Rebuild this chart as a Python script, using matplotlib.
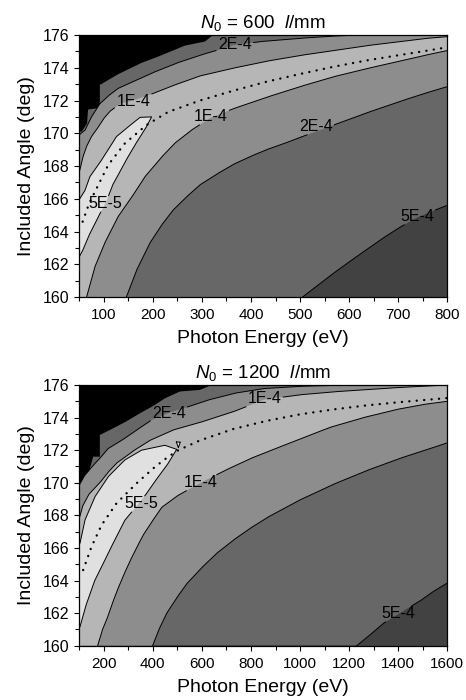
import numpy as np
import matplotlib
matplotlib.use("Agg")
import matplotlib.pyplot as plt
from matplotlib.ticker import MultipleLocator

plt.rcParams['font.family'] = ['Liberation Sans', 'DejaVu Sans']
plt.rcParams['mathtext.fontset'] = 'custom'
plt.rcParams['mathtext.rm'] = 'Liberation Sans'
plt.rcParams['mathtext.it'] = 'Liberation Sans:italic'

# ---------------- N0 = 600 l/mm ----------------
# edge of the forbidden (alpha > 90 deg) region: (photon energy eV, included angle deg)
edge_600 = [(50, 170.1), (55, 170.1), (66, 170.6), (68, 171.45), (92, 171.55), (92, 172.95),
            (129, 173.6), (177, 174.3), (204, 174.6), (245, 175.1), (265, 175.35),
            (306, 175.6), (323, 176.0)]
# resolution contours, upper (small-energy / large-angle) branches
up_2e4_600 = [(50, 169.9), (62, 170.2), (75, 171.0), (92, 171.8), (110, 172.3), (130, 172.75),
              (160, 173.15), (200, 173.7), (250, 174.3), (300, 174.8), (340, 175.15),
              (367, 175.38), (420, 175.6), (500, 175.8), (560, 175.92), (620, 176.0)]
up_1e4_600 = [(50, 167.6), (57, 168.5), (65, 169.2), (75, 169.8), (86, 170.25), (100, 170.9),
              (113, 171.35), (133, 171.8), (160, 172.0), (198, 172.4), (240, 172.9),
              (296, 173.5), (360, 173.95), (432, 174.4), (500, 174.75), (568, 175.05),
              (636, 175.35), (704, 175.6), (760, 175.8), (800, 175.9)]
# lower branches
lo_1e4_600 = [(65, 160.0), (82, 161.85), (102, 163.3), (129, 164.9), (157, 166.1), (184, 167.35),
              (218, 168.55), (245, 169.4), (279, 170.2), (318, 170.95), (364, 171.5),
              (432, 172.2), (500, 172.85), (568, 173.45), (636, 173.95), (703, 174.4),
              (760, 174.8), (800, 175.05)]
lo_2e4_600 = [(146, 160.0), (167, 161.65), (194, 163.3), (218, 164.4), (241, 165.3),
              (268, 166.1), (296, 166.85), (330, 167.5), (364, 168.1), (400, 168.6),
              (432, 169.0), (470, 169.4), (500, 169.75), (532, 170.1), (568, 170.5),
              (636, 171.25), (704, 171.95), (750, 172.4), (800, 172.85)]
lo_5e4_600 = [(505, 160.0), (540, 160.8), (568, 161.45), (600, 162.15), (636, 162.9),
              (669, 163.6), (700, 164.2), (738, 164.85), (770, 165.25), (800, 165.6)]
# closed 5E-5 island
isl_5e5_600 = [[(50, 165.95), (61.6, 166.5), (71.8, 167.35), (92, 168.2), (109, 169.0),
                (126, 169.8), (150, 170.4), (174, 170.97), (197.5, 171.0), (187, 170.4),
                (170, 169.6), (150, 168.6), (133, 167.65), (119, 166.9), (106, 165.9),
                (89, 164.9), (72, 163.9), (58, 162.9), (50, 162.45)]]
# optimum included angle
opt_600 = [(57, 164.6), (70, 165.7), (85.5, 166.64), (109, 168.06), (143, 169.38),
           (187, 170.5), (231, 171.3), (296, 172.0), (364, 172.6), (432, 173.15),
           (500, 173.62), (568, 174.06), (636, 174.45), (704, 174.78), (760, 175.05),
           (800, 175.25)]
labels_600 = [("2E-4", 367, 175.42, "up2"), ("1E-4", 160, 171.95, "up1"),
              ("1E-4", 318, 171.0, "lo1"), ("2E-4", 532, 170.4, "lo2"),
              ("5E-4", 738, 164.9, "lo5"), ("5E-5", 104, 165.7, "isl")]

# ---------------- N0 = 1200 l/mm ----------------
edge_1200 = [(100, 170.05), (137, 170.05), (140, 170.7), (157, 171.6), (184, 171.6),
             (184, 172.93), (225, 173.24), (290, 173.75), (347, 174.26), (400, 174.7),
             (449, 175.18), (510, 175.6), (592, 175.7), (640, 176.0)]
up_2e4_1200 = [(100, 169.85), (120, 170.4), (150, 170.95), (184, 171.5), (218, 172.1),
               (273, 172.6), (340, 173.3), (395, 173.85), (466, 174.3), (531, 174.6),
               (626, 175.08), (735, 175.5), (850, 175.78), (1000, 175.92), (1200, 176.0)]
up_1e4_1200 = [(100, 167.8), (115, 168.6), (140, 169.3), (184, 170.0), (218, 170.65),
               (252, 171.2), (320, 171.95), (388, 172.6), (483, 173.24), (592, 173.7),
               (728, 174.36), (853, 175.1), (1000, 175.4), (1135, 175.58), (1272, 175.72),
               (1407, 175.85), (1600, 176.0)]
lo_1e4_1200 = [(175, 160.0), (195, 161.0), (212, 161.6), (235, 162.6), (255, 163.4),
               (280, 164.3), (307, 165.2), (335, 166.05), (361, 166.8), (400, 167.7),
               (437, 168.5), (500, 169.2), (595, 170.0), (700, 170.8), (800, 171.5),
               (900, 172.1), (986, 172.6), (1122, 173.4), (1258, 174.0), (1394, 174.5),
               (1500, 174.8), (1600, 175.0)]
lo_2e4_1200 = [(399, 160.0), (425, 161.0), (456, 161.98), (500, 163.0), (538, 163.8),
               (600, 164.8), (660, 165.67), (730, 166.5), (796, 167.2), (870, 167.9),
               (945, 168.5), (1000, 168.95), (1135, 169.9), (1272, 170.75), (1407, 171.5),
               (1500, 171.95), (1600, 172.45)]
lo_5e4_1200 = [(1231, 160.0), (1280, 160.6), (1339, 161.37), (1400, 161.94), (1450, 162.4),
               (1489, 162.75), (1540, 163.3), (1600, 163.85)]
isl_5e5_1200 = [[(100, 166.3), (103, 166.28), (123, 167.7), (164, 169.14), (218, 170.37),
                 (286, 171.4), (354, 172.0), (449, 172.3), (497, 172.05), (463, 171.2),
                 (422, 170.37), (375, 169.35), (330, 168.5), (286, 167.7), (245, 166.5),
                 (205, 165.26), (164, 164.03), (130, 162.6), (103, 161.16), (100, 161.1)],
                [(496, 172.5), (512, 172.5), (504, 172.15), (496, 172.5)]]
opt_1200 = [(116, 164.64), (150, 166.07), (191, 167.4), (252, 168.74), (334, 169.97),
            (409, 170.98), (463, 171.6), (504, 172.0), (592, 172.6), (728, 173.3),
            (864, 173.8), (1000, 174.2), (1135, 174.5), (1272, 174.75), (1407, 174.95),
            (1600, 175.2)]
labels_1200 = [("2E-4", 466, 174.25, "up2"), ("1E-4", 855, 175.15, "up1"),
               ("1E-4", 595, 170.0, "lo1"), ("5E-5", 354, 168.7, "isl"),
               ("5E-4", 1400, 161.95, "lo5")]

ANGLE_MIN, ANGLE_MAX = 160, 176
C_LT5E5 = '#e0e0e0'
C_5E5 = '#b6b6b6'
C_1E4 = '#8d8d8d'
C_2E4 = '#676767'
C_5E4 = '#424242'


def arr(pts):
    return np.asarray(pts, dtype=float)


def band(ax, upper, lower, e0, e1, color):
    poly = np.vstack([[[e0, ANGLE_MIN]], arr(upper), [[e1, ANGLE_MAX]], arr(lower)[::-1]])
    ax.fill(poly[:, 0], poly[:, 1], color=color, lw=0, zorder=1)


def gapped_line(ax, pts, boxes, closed=False):
    p = arr(pts)
    if closed:
        p = np.vstack([p, p[:1]])
    disp = ax.transData.transform(p)
    out = []
    for a, b in zip(disp[:-1], disp[1:]):
        n = max(2, int(np.hypot(*(b - a)) / 0.5))
        t = np.linspace(0, 1, n)[:, None]
        out.append(a + (b - a) * t)
    d = np.vstack(out)
    keep = np.ones(len(d), bool)
    for bb in boxes:
        inside = ((d[:, 0] > bb.x0 - 1.5) & (d[:, 0] < bb.x1 + 1.5) &
                  (d[:, 1] > bb.y0 - 0.5) & (d[:, 1] < bb.y1 + 0.5))
        keep &= ~inside
    data = ax.transData.inverted().transform(d)
    data[~keep] = np.nan
    ax.plot(data[:, 0], data[:, 1], color='black', lw=0.7, zorder=4,
            solid_joinstyle='round')


def panel(ax, title, e0, e1, edge, up2, up1, lo1, lo2, lo5, isl, opt, labels,
          major, minor):
    ax.set_xlim(e0, e1)
    ax.set_ylim(ANGLE_MIN, ANGLE_MAX)
    ax.set_facecolor('black')
    ed = arr(edge)
    valid = np.vstack([ed, [[e1, ANGLE_MAX], [e1, ANGLE_MIN], [e0, ANGLE_MIN]]])
    ax.fill(valid[:, 0], valid[:, 1], color=C_2E4, lw=0, zorder=1)
    l5 = np.vstack([arr(lo5), [[e1, ANGLE_MIN]]])
    ax.fill(l5[:, 0], l5[:, 1], color=C_5E4, lw=0, zorder=1)
    band(ax, up2, lo2, e0, e1, C_1E4)
    band(ax, up1, lo1, e0, e1, C_5E5)
    for piece in isl:
        pc = arr(piece)
        ax.fill(pc[:, 0], pc[:, 1], color=C_LT5E5, lw=0, zorder=2)

    texts = {}
    for s, x, y, key in labels:
        t = ax.text(x, y, s, fontsize=11.5, ha='center', va='center', zorder=5)
        texts.setdefault(key, []).append(t)

    op = arr(opt)
    ax.plot(op[:, 0], op[:, 1], color='black', lw=1.7, ls=(0, (0.05, 3.1)),
            dash_capstyle='round', zorder=3)

    ax.set_title(title, fontsize=13.5, pad=5)
    ax.set_xlabel('Photon Energy (eV)', fontsize=14, labelpad=6)
    ax.set_ylabel('Included Angle (deg)', fontsize=14, labelpad=6)
    ax.xaxis.set_major_locator(MultipleLocator(major))
    ax.xaxis.set_minor_locator(MultipleLocator(minor))
    ax.yaxis.set_major_locator(MultipleLocator(2))
    ax.yaxis.set_minor_locator(MultipleLocator(1))
    ax.tick_params(which='both', direction='out', width=0.8, labelsize=11,
                   top=False, right=False)
    ax.tick_params(axis='x', which='major', pad=4.5)
    ax.tick_params(axis='y', labelsize=11.5)
    ax.tick_params(which='major', length=3.4)
    ax.tick_params(which='minor', length=2.6)
    for sp in ax.spines.values():
        sp.set_linewidth(0.9)
        sp.set_zorder(6)
    return texts


fig = plt.figure(figsize=(4.66, 7.0), dpi=100)
ax1 = fig.add_axes([0.170, 0.5757, 0.790, 0.3743])
ax2 = fig.add_axes([0.170, 0.0776, 0.790, 0.3724])

specs = [
    (ax1, r'$N_0$ = 600  $l$/mm', 50, 800, edge_600, up_2e4_600, up_1e4_600, lo_1e4_600,
     lo_2e4_600, lo_5e4_600, isl_5e5_600, opt_600, labels_600, 100, 50),
    (ax2, r'$N_0$ = 1200  $l$/mm', 100, 1600, edge_1200, up_2e4_1200, up_1e4_1200,
     lo_1e4_1200, lo_2e4_1200, lo_5e4_1200, isl_5e5_1200, opt_1200, labels_1200, 200, 100),
]

drawn = []
for s in specs:
    drawn.append((s, panel(*s)))

fig.canvas.draw()
renderer = fig.canvas.get_renderer()
for s, texts in drawn:
    ax = s[0]
    branches = {'up2': s[5], 'up1': s[6], 'lo1': s[7], 'lo2': s[8], 'lo5': s[9]}
    for key, pts in branches.items():
        boxes = [t.get_window_extent(renderer) for t in texts.get(key, [])]
        gapped_line(ax, pts, boxes)
    isl_boxes = [t.get_window_extent(renderer) for t in texts.get('isl', [])]
    for piece in s[10]:
        gapped_line(ax, piece, isl_boxes)

fig.savefig('out.png', dpi=100)
